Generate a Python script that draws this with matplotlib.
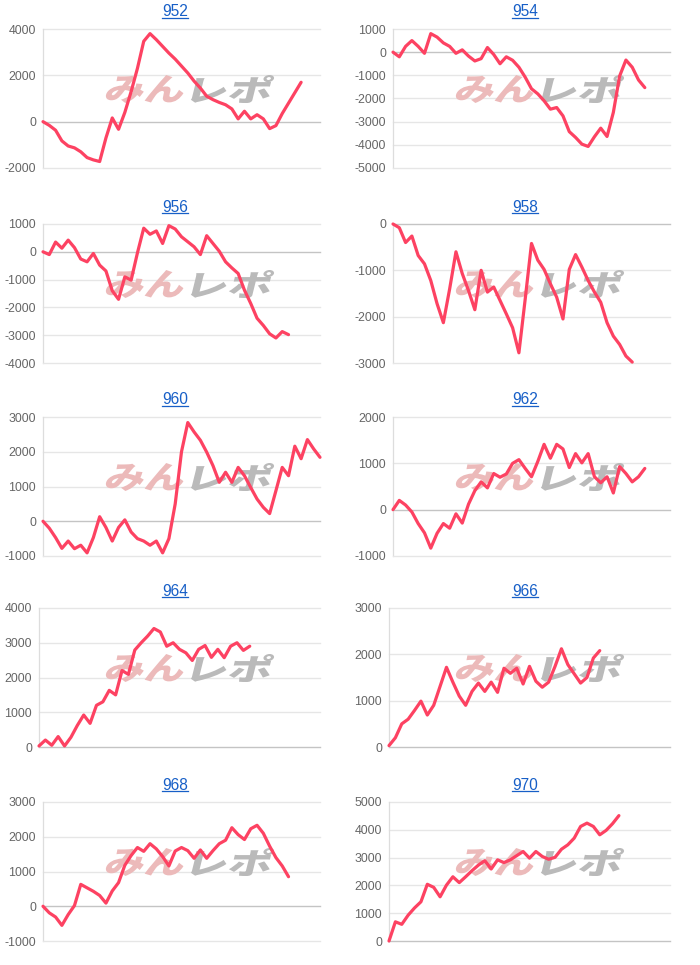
import matplotlib
matplotlib.use("Agg")
import matplotlib.pyplot as plt
from matplotlib.textpath import TextPath
from matplotlib.patches import PathPatch
from matplotlib.font_manager import FontProperties
from matplotlib.transforms import Affine2D
from matplotlib.lines import Line2D

# machine numbers (panel titles)
machines = ["952", "954", "956", "958", "960", "962", "964", "966", "968", "970"]

# coin difference per machine
s952 = [0, -160, -370, -830, -1050, -1130, -1300, -1550, -1650, -1720, -700, 160, -330, 400, 1300,
        2300, 3470, 3800, 3540, 3250, 2960, 2700, 2400, 2100, 1750, 1450, 1100, 950, 830, 730, 550,
        120, 450, 120, 300, 120, -300, -170, 350, 800, 1250, 1700]
s954 = [0, -200, 250, 500, 250, -50, 800, 650, 400, 250, -50, 100, -170, -380, -280, 200, -100,
        -500, -200, -350, -650, -1080, -1580, -1800, -2100, -2460, -2390, -2750, -3430, -3680,
        -3970, -4070, -3650, -3280, -3640, -2600, -1030, -340, -650, -1200, -1530]
s956 = [0, -100, 350, 130, 420, 150, -260, -360, -60, -480, -690, -1400, -1710, -900, -1020, -40,
        850, 630, 750, 300, 940, 820, 540, 360, 180, -100, 580, 300, 20, -360, -580, -780, -1380,
        -1860, -2390, -2650, -2950, -3100, -2870, -2980]
s958 = [0, -80, -400, -260, -680, -860, -1220, -1720, -2130, -1400, -600, -1070, -1440, -1850,
        -1000, -1470, -1360, -1650, -1940, -2240, -2780, -1620, -420, -780, -980, -1290, -1580,
        -2050, -980, -660, -930, -1220, -1470, -1690, -2130, -2420, -2600, -2850, -2980]
s960 = [0, -200, -470, -780, -570, -790, -690, -910, -470, 130, -180, -570, -180, 40, -310, -500,
        -570, -690, -570, -910, -500, 500, 2000, 2840, 2570, 2330, 1990, 1600, 1120, 1410, 1120,
        1550, 1310, 970, 640, 400, 220, 880, 1550, 1310, 2160, 1800, 2350, 2080, 1840]
s962 = [0, 200, 100, -50, -300, -500, -830, -510, -300, -400, -90, -290, 120, 410, 600, 470, 780,
        700, 770, 1000, 1080, 890, 710, 1040, 1410, 1110, 1410, 1310, 910, 1210, 1010, 1210, 710,
        580, 710, 360, 930, 780, 600, 710, 890]
s964 = [30, 200, 50, 300, 30, 280, 620, 920, 680, 1200, 1300, 1630, 1500, 2200, 2090, 2790, 3000,
        3190, 3410, 3310, 2900, 3000, 2810, 2710, 2490, 2810, 2920, 2580, 2810, 2570, 2900, 3000,
        2780, 2900]
s966 = [30, 200, 500, 600, 790, 990, 690, 900, 1310, 1720, 1400, 1100, 900, 1200, 1380, 1200, 1400,
        1180, 1700, 1590, 1700, 1360, 1740, 1420, 1290, 1400, 1740, 2120, 1780, 1580, 1380, 1500,
        1920, 2080]
s968 = [0, -190, -310, -550, -240, 20, 630, 530, 430, 310, 90, 440, 680, 1180, 1460, 1690, 1580,
        1800, 1650, 1430, 1160, 1590, 1690, 1600, 1380, 1620, 1380, 1600, 1800, 1900, 2260, 2060,
        1920, 2230, 2330, 2100, 1730, 1400, 1160, 850]
s970 = [0, 690, 600, 930, 1190, 1410, 2040, 1930, 1590, 2010, 2310, 2100, 2310, 2530, 2730, 2890,
        2590, 2920, 2820, 2920, 3070, 3220, 2980, 3220, 3040, 2940, 3010, 3300, 3460, 3700, 4120,
        4240, 4120, 3820, 3980, 4220, 4510]
series = [s952, s954, s956, s958, s960, s962, s964, s966, s968, s970]

# y axis range and tick step per panel
y_min = [-2000, -5000, -4000, -3000, -1000, -1000, 0, 0, -1000, 0]
y_max = [4000, 1000, 1000, 0, 3000, 2000, 4000, 3000, 3000, 5000]
y_step = [2000, 1000, 1000, 1000, 1000, 1000, 1000, 1000, 1000, 1000]

n_slots = 45  # x-axis length shared by all panels

W, H = 700, 965
LINE = "#fd4262"
TITLE = "#175fc7"
GRID = "#e6e6e6"
ZERO = "#c4c4c4"

fig = plt.figure(figsize=(W / 100, H / 100), dpi=100)
fig.patch.set_facecolor("white")

row_tops = [29, 224, 417, 608, 802]
plot_h = 139
jp = FontProperties(family="Noto Sans CJK JP", weight="black")


def add_logo(ax, text, color, x_px, top_px, w_px, h_px):
    tp = TextPath((0, 0), text, prop=jp, size=1)
    bb = tp.get_extents()
    tr = (Affine2D().translate(-bb.x0, -bb.y0)
          .scale(w_px / bb.width, h_px / bb.height)
          .skew_deg(14, 0)
          .translate(x_px - 4, H - top_px - h_px))
    patch = PathPatch(tp, facecolor=color, edgecolor="none", transform=tr, zorder=1)
    ax.add_artist(patch)


titles = []
for i, name in enumerate(machines):
    row, col = i // 2, i % 2
    cleft = 350 * col
    top = row_tops[row]
    left = cleft + (43 if y_min[i] < 0 else 39)
    right = cleft + 320
    ax = fig.add_axes([left / W, 1 - (top + plot_h) / H, (right - left) / W, plot_h / H])
    ax.set_facecolor("none")

    # watermark
    add_logo(ax, "みん", "#ecbaba", cleft + 108, top + 46, 77, 28)
    add_logo(ax, "レポ", "#bababa", cleft + 194, top + 46, 78, 28)

    ticks = list(range(y_min[i], y_max[i] + 1, y_step[i]))
    for t in ticks[1:]:
        ax.axhline(t, color=ZERO if t == 0 else GRID, lw=1.0, zorder=0.5, clip_on=False)

    vals = series[i]
    ax.plot(range(len(vals)), vals, color=LINE, lw=2.3, solid_joinstyle="round",
            solid_capstyle="round", zorder=3, clip_on=False)

    ax.set_xlim(0, n_slots - 1)
    ax.set_ylim(y_min[i], y_max[i])
    ax.set_yticks(ticks)
    ax.set_yticklabels([str(t) for t in ticks], fontfamily="Liberation Sans")
    ax.set_xticks([])
    ax.tick_params(axis="y", length=0, pad=5, labelsize=8.9, labelcolor="#666666")
    for s in ["top", "right"]:
        ax.spines[s].set_visible(False)
    ax.spines["left"].set_color("#dddddd")
    ax.spines["left"].set_linewidth(0.9)
    ax.spines["bottom"].set_color(ZERO if y_min[i] == 0 else GRID)
    ax.spines["bottom"].set_linewidth(1.0)

    t = fig.text((cleft + 175) / W, 1 - (top - 17) / H, name, ha="center", va="center",
                 fontsize=11.2, color=TITLE, family="Liberation Sans")
    titles.append(t)

# underline the titles like links
fig.canvas.draw()
for t in titles:
    bb = t.get_window_extent()
    y = bb.y0 + 1.5
    fig.add_artist(Line2D([bb.x0, bb.x1], [y, y], color=TITLE, lw=0.9,
                          transform=None))

fig.savefig("out.png", dpi=100)
